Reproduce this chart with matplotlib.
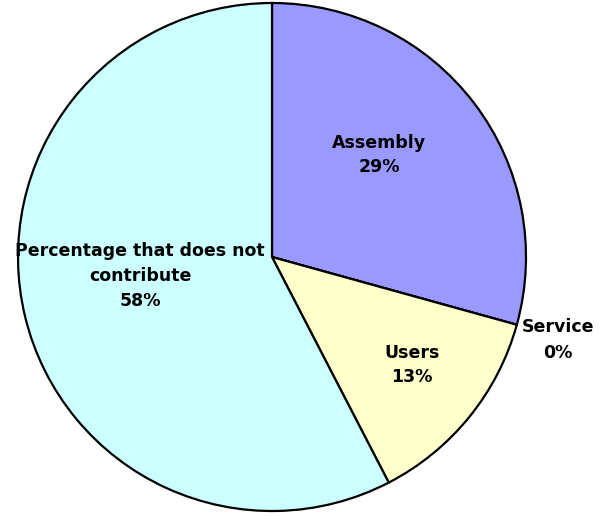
import matplotlib
matplotlib.use('Agg')
import matplotlib.pyplot as plt

# slice data, clockwise from 12 o'clock
labels = ['Assembly', 'Service', 'Users', 'Percentage that does not\ncontribute']
shares = [29.3, 0.0, 13.1, 57.6]
colors = ['#9999FF', '#FFFFFF', '#FFFFCC', '#CCFFFF']

# label anchor points (pixels, origin bottom-left)
label_pos = [(379, 361), (558, 176), (412, 151), (140, 240)]

W, H = 604, 516
fig = plt.figure(figsize=(W / 100, H / 100), dpi=100)
ax = fig.add_axes([0, 0, 1, 1])

ax.pie(shares, colors=colors, startangle=90, counterclock=False,
       center=(272, 259), radius=254, frame=True,
       wedgeprops=dict(edgecolor='black', linewidth=1.6))
ax.set_xlim(0, W)
ax.set_ylim(0, H)
ax.set_aspect('equal')
ax.axis('off')

for lab, val, (x, y) in zip(labels, shares, label_pos):
    ax.text(x, y, f'{lab}\n{round(val)}%', ha='center', va='center',
            fontsize=12.5, fontweight='bold', linespacing=1.5, color='black')

fig.savefig('out.png', dpi=100, facecolor='white')
